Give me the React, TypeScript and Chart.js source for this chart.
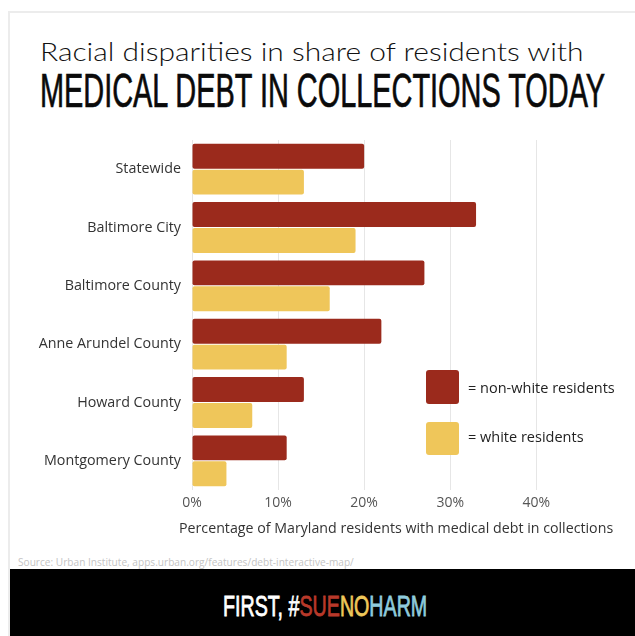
import React, { useEffect, useLayoutEffect, useRef } from "react";
import { Chart, registerables } from "chart.js";

Chart.register(...registerables);

const categories = [
  "Statewide",
  "Baltimore City",
  "Baltimore County",
  "Anne Arundel County",
  "Howard County",
  "Montgomery County",
];
const nonWhite = [20, 33, 27, 22, 13, 11];
const white = [13, 19, 16, 11, 7, 4];
const seriesNames = ["= non-white residents", "= white residents"];
const xTicks = [0, 10, 20, 30, 40];
const xTitle = "Percentage of Maryland residents with medical debt in collections";

const RED = "#9b2a1c";
const YELLOW = "#efc65a";

function FitText(props: {
  left: number;
  top: number;
  width: number;
  style: React.CSSProperties;
  children: React.ReactNode;
}) {
  const ref = useRef<HTMLSpanElement>(null);
  useLayoutEffect(() => {
    const measure = () => {
      const el = ref.current;
      if (!el) return;
      const w = el.offsetWidth;
      if (w > 0) el.style.transform = `scaleX(${props.width / w})`;
    };
    measure();
    (document as any).fonts?.ready?.then(measure);
  });
  return (
    <span
      ref={ref}
      style={{
        position: "absolute",
        left: props.left,
        top: props.top,
        whiteSpace: "nowrap",
        display: "inline-block",
        transformOrigin: "0 0",
        lineHeight: 1,
        ...props.style,
      }}
    >
      {props.children}
    </span>
  );
}

function BarChart() {
  const canvasRef = useRef<HTMLCanvasElement>(null);
  useEffect(() => {
    const canvas = canvasRef.current;
    if (!canvas) return;
    const chart = new Chart(canvas, {
      type: "bar",
      data: {
        labels: categories,
        datasets: [
          {
            label: seriesNames[0],
            data: nonWhite,
            backgroundColor: RED,
            borderRadius: 2,
            borderSkipped: false,
            categoryPercentage: 0.89,
            barPercentage: 0.96,
          },
          {
            label: seriesNames[1],
            data: white,
            backgroundColor: YELLOW,
            borderRadius: 2,
            borderSkipped: false,
            categoryPercentage: 0.89,
            barPercentage: 0.96,
          },
        ],
      },
      options: {
        indexAxis: "y",
        animation: false,
        responsive: false,
        maintainAspectRatio: false,
        layout: { padding: { top: 140, right: 35, left: 0, bottom: 0 } },
        plugins: { legend: { display: false }, tooltip: { enabled: false } },
        scales: {
          y: {
            grid: { display: false, drawTicks: false },
            border: { display: false },
            ticks: {
              color: "#333",
              padding: 11,
              font: { family: "'Open Sans'", size: 14.3 },
            },
            afterFit: (s: any) => {
              s.width = 192;
            },
          },
          x: {
            min: 0,
            max: 47.4,
            grid: { color: "#e6e6e6", drawTicks: false, lineWidth: 1 },
            border: { display: false },
            afterBuildTicks: (s: any) => {
              s.ticks = xTicks.map((v) => ({ value: v }));
            },
            ticks: {
              stepSize: 10,
              includeBounds: false,
              color: "#555",
              padding: 5,
              font: { family: "'Open Sans'", size: 14 },
              callback: (v: any) => v + "%",
            },
            title: { display: false },
            afterFit: (s: any) => {
              s.height = 55;
            },
          },
        },
      },
    } as any);
    return () => chart.destroy();
  }, []);
  return (
    <canvas
      ref={canvasRef}
      width={635}
      height={545}
      style={{ position: "absolute", left: 0, top: 0, width: 635, height: 545 }}
    />
  );
}

export default function App() {
  useEffect(() => {
    document.body.style.margin = "0";
  }, []);
  return (
    <div
      style={{
        position: "absolute",
        left: 0,
        top: 0,
        width: 635,
        height: 636,
        background: "#fff",
        overflow: "hidden",
        fontFamily: "'Open Sans', sans-serif",
      }}
    >
      <div
        style={{
          position: "absolute",
          left: 8,
          top: 11,
          width: 640,
          height: 640,
          borderTop: "2px solid #ececec",
          borderLeft: "2px solid #ececec",
        }}
      />
      <FitText left={40} top={38.7} width={543} style={{ fontFamily: "Lato", fontWeight: 300, fontSize: 25, color: "#111" }}>
        Racial disparities in share of residents with
      </FitText>
      <FitText left={40} top={66.8} width={565} style={{ fontFamily: "'Liberation Sans'", fontWeight: 400, fontSize: 47.5, color: "#0a0a0a", WebkitTextStroke: "0.7px #0a0a0a" }}>
        MEDICAL DEBT IN COLLECTIONS TODAY
      </FitText>
      <BarChart />
      <FitText left={179} top={519.5} width={434} style={{ fontSize: 15, color: "#333" }}>
        {xTitle}
      </FitText>
      <div style={{ position: "absolute", left: 426, top: 370, width: 33, height: 34, background: RED, borderRadius: 3 }} />
      <div style={{ position: "absolute", left: 426, top: 422, width: 33, height: 33, background: YELLOW, borderRadius: 3 }} />
      <FitText left={468} top={380} width={147} style={{ fontSize: 15, fontWeight: 500, color: "#222" }}>
        {seriesNames[0]}
      </FitText>
      <FitText left={468} top={429} width={116} style={{ fontSize: 15, fontWeight: 500, color: "#222" }}>
        {seriesNames[1]}
      </FitText>
      <FitText left={18} top={557} width={336} style={{ fontSize: 10, color: "#c4c4c4" }}>
        Source: Urban Institute, apps.urban.org/features/debt-interactive-map/
      </FitText>
      <div style={{ position: "absolute", left: 10, top: 569, width: 625, height: 67, background: "#000" }} />
      <FitText left={223} top={592} width={204} style={{ fontFamily: "'Liberation Sans'", fontWeight: 400, fontSize: 29, color: "#fff", WebkitTextStroke: "0.8px currentColor" }}>
        FIRST, #<span style={{ color: "#b8392a" }}>SUE</span>
        <span style={{ color: "#efc75a" }}>NO</span>
        <span style={{ color: "#8fcbdc" }}>HARM</span>
      </FitText>
    </div>
  );
}
